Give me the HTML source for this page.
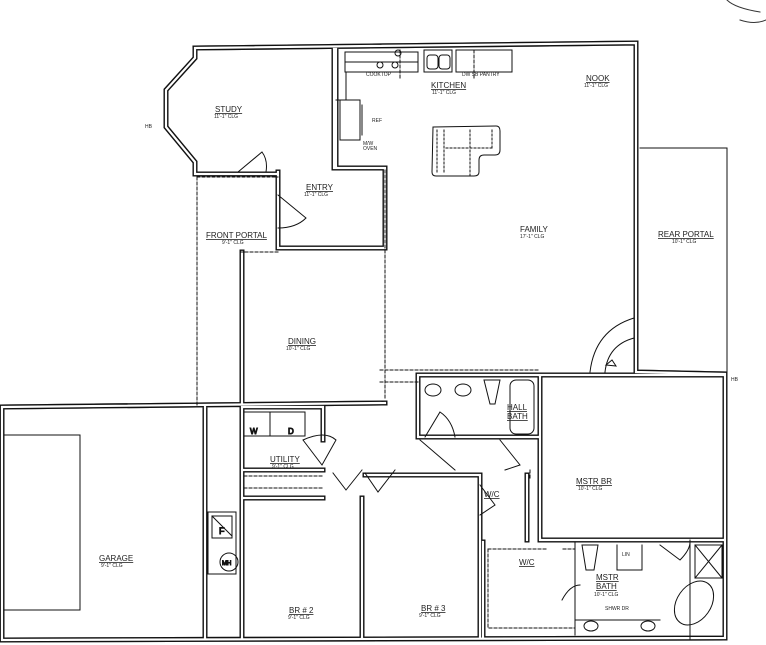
<!DOCTYPE html>
<html><head><meta charset="utf-8"><style>
html,body{margin:0;padding:0;background:#fff;width:766px;height:645px;overflow:hidden}
svg{display:block}
text{font-family:"Liberation Sans",sans-serif;fill:#222}
.l{font-size:8px;text-decoration:underline}
.s{font-size:5px}
</style></head><body>
<svg width="766" height="645" viewBox="0 0 766 645" xmlns="http://www.w3.org/2000/svg">
<g fill="none" stroke="#111" stroke-linecap="square">
<!-- double walls: thick black then white core -->
<g id="walls" stroke-width="5">
<path d="M195,48 L636,43 L636,372 M636,372 L725,374 L725,638 L2,640 L2,407 L385,403 M195,48 L195,58 L166,90 L166,127 L195,162 L195,174 L278,174 M334,49 L334,168 M336,49 L336,168 L385,168 L385,248 M278,172 L278,248 L385,248 M242,252 L242,403 M242,407 L242,638 M205,407 L205,638 M242,470 L323,470 M242,498 L323,498 M242,407 L323,407 L323,440 M362,498 L362,638 M365,475 L480,475 L480,638 M418,375 L418,437 L540,437 M418,375 L725,375 M540,375 L540,540 L725,540 M480,540 L725,540 M527,475 L527,540 M483,542 L483,638"/>
</g>
<g stroke="#fff" stroke-width="2">
<use href="#walls"/>
</g>
<path stroke-width="5" d="M195,48 L636,43 L636,372 L725,374 L725,638 L2,640 L2,407 L385,403 M195,48 L195,58 L166,90 L166,127 L195,162 L195,174 L278,174 M334,49 L334,168 M336,49 L336,168 L385,168 L385,248 M278,172 L278,248 L385,248 M242,252 L242,403 M242,407 L242,638 M205,407 L205,638 M242,470 L323,470 M242,498 L323,498 M242,407 L323,407 L323,440 M362,498 L362,638 M365,475 L480,475 L480,638 M418,375 L418,437 L540,437 M418,375 L725,375 M540,375 L540,540 L725,540 M527,475 L527,540 M483,542 L483,638" stroke="#111"/>
<path stroke-width="2.2" stroke="#fff" d="M195,48 L636,43 L636,372 L725,374 L725,638 L2,640 L2,407 L385,403 M195,48 L195,58 L166,90 L166,127 L195,162 L195,174 L278,174 M334,49 L334,168 M336,49 L336,168 L385,168 L385,248 M278,172 L278,248 L385,248 M242,252 L242,403 M242,407 L242,638 M205,407 L205,638 M242,470 L323,470 M242,498 L323,498 M242,407 L323,407 L323,440 M362,498 L362,638 M365,475 L480,475 L480,638 M418,375 L418,437 L540,437 M418,375 L725,375 M540,375 L540,540 L725,540 M527,475 L527,540 M483,542 L483,638"/>
<!-- thin lines -->
<g stroke-width="1">
<path d="M640,148 L727,148 L727,372 M5,435 L80,435 L80,610 L5,610"/>
<path stroke-dasharray="3,2" d="M197,177 L197,405 M197,177 L278,177 M240,252 L278,252 M385,170 L385,400 M380,370 L540,370 M380,382 L418,382 M336,100 L345,100 M400,50 L400,78 M474,50 L474,78 M530,470 L530,478"/>
<!-- kitchen counters -->
<path d="M345,52 L418,52 L418,72 L345,72 Z M345,62 L418,62 M424,50 L452,50 L452,72 L424,72 Z M456,50 L512,50 L512,72 L456,72 Z M346,72 L346,100 M340,100 L360,100 L360,140 L340,140 Z M362,105 L362,135"/>
<circle cx="380" cy="65" r="3"/><circle cx="395" cy="65" r="3"/><circle cx="398" cy="53" r="3"/>
<rect x="427" y="55" width="11" height="14" rx="3"/><rect x="439" y="55" width="11" height="14" rx="3"/>
<!-- island -->
<path d="M433,127 L496,126 Q500,126 500,131 L500,150 Q500,155 495,155 L484,155 Q479,155 479,160 L479,172 Q479,176 474,176 L436,176 Q432,176 432,172 Z"/>
<path stroke-dasharray="2,2" d="M437,130 L437,174 M444,130 L444,174 M446,148 L492,148 M470,130 L470,176 M492,130 L492,148"/>
<!-- family door arc -->
<path d="M634,318 Q595,330 590,372 M634,338 Q608,345 605,372"/>
<path d="M606,365 l6,-5 l4,6 z"/>
<!-- study door -->
<path d="M238,172 L262,152 Q268,160 266,172"/>
<path d="M278,195 L306,218 Q296,228 278,228"/>
<!-- hall bath fixtures -->
<ellipse cx="433" cy="390" rx="8" ry="6"/><ellipse cx="463" cy="390" rx="8" ry="6"/>
<path d="M484,380 L500,380 L495,404 L490,404 Z"/>
<rect x="510" y="380" width="24" height="54" rx="6"/>
<path d="M425,437 L440,412 Q452,420 455,437"/>
<!-- utility -->
<path d="M244,412 L305,412 L305,436 L244,436 M270,412 L270,436"/>
<text x="250" y="434" font-size="8">W</text><text x="288" y="434" font-size="8">D</text>
<!-- doors hall -->
<path d="M303,440 L322,465 L336,440 Q325,430 303,440 M333,473 L346,490 L362,470 M365,473 L378,492 L395,470 M420,440 L455,470 M500,440 L520,465 L505,470 M480,485 L495,505 L480,515"/>
<path d="M244,476 L322,476 M244,488 L322,488" stroke-dasharray="3,2"/>
<!-- F / MH -->
<rect x="208" y="512" width="28" height="62"/><rect x="212" y="516" width="20" height="22"/>
<line x1="212" y1="516" x2="232" y2="536"/>
<circle cx="229" cy="562" r="9"/>
<text x="219" y="534" font-size="9">F</text><text x="222" y="565" font-size="6">MH</text>
<!-- master bath -->
<path d="M488,549 L548,549 M563,549 L575,549 M488,549 L488,628 L575,628" stroke-dasharray="3,2"/>
<path d="M575,542 L575,635 M575,620 L660,620 M617,545 L617,570 L642,570 L642,545 M690,540 L690,640 M695,545 L722,545 L722,578 L695,578 Z M695,545 L722,578 M722,545 L695,578"/>
<path d="M582,545 L598,545 L594,570 L586,570 Z"/>
<ellipse cx="694" cy="603" rx="17" ry="24" transform="rotate(35 694 603)"/>
<ellipse cx="591" cy="626" rx="7" ry="5"/><ellipse cx="648" cy="626" rx="7" ry="5"/>
<path d="M562,600 Q570,585 580,585 M660,545 L680,560 Q690,550 690,542"/>
</g>
<path d="M727,0 Q735,8 760,12 M740,20 Q755,25 766,20" stroke="#333" fill="none"/>
</g>
<text class="l" x="215" y="112">STUDY</text><text class="s" x="214" y="118">11'-1" CLG</text>
<text class="l" x="431" y="88">KITCHEN</text><text class="s" x="432" y="94">11'-1" CLG</text>
<text class="s" x="366" y="76">COOKTOP</text><text class="s" x="462" y="76">DW  SB  PANTRY</text>
<text class="s" x="372" y="122">REF</text><text class="s" x="363" y="145">M/W</text><text class="s" x="363" y="150">OVEN</text>
<text class="l" x="586" y="81">NOOK</text><text class="s" x="584" y="87">11'-1" CLG</text>
<text x="520" y="232" font-size="8">FAMILY</text><text class="s" x="520" y="238">17'-1" CLG</text>
<text class="l" x="658" y="237">REAR PORTAL</text><text class="s" x="672" y="243">10'-1" CLG</text>
<text class="l" x="306" y="190">ENTRY</text><text class="s" x="304" y="196">11'-1" CLG</text>
<text class="l" x="206" y="238">FRONT PORTAL</text><text class="s" x="222" y="244">9'-1" CLG</text>
<text class="l" x="288" y="344">DINING</text><text class="s" x="286" y="350">10'-1" CLG</text>
<text class="l" x="507" y="410">HALL</text><text class="l" x="507" y="419">BATH</text>
<text class="l" x="270" y="462">UTILITY</text><text class="s" x="272" y="468">9'-1" CLG</text>
<text class="l" x="99" y="561">GARAGE</text><text class="s" x="101" y="567">9'-1" CLG</text>
<text class="l" x="289" y="613">BR # 2</text><text class="s" x="288" y="619">9'-1" CLG</text>
<text class="l" x="421" y="611">BR # 3</text><text class="s" x="419" y="617">9'-1" CLG</text>
<text class="l" x="576" y="484">MSTR BR</text><text class="s" x="578" y="490">10'-1" CLG</text>
<text class="l" x="484" y="497" font-size="6">W/C</text><text class="l" x="519" y="565">W/C</text>
<text class="l" x="596" y="580">MSTR</text><text class="l" x="596" y="589">BATH</text><text class="s" x="594" y="596">10'-1" CLG</text>
<text class="s" x="622" y="556">LIN</text><text class="s" x="605" y="610">SHWR  DR</text>
<text class="s" x="145" y="128">HB</text><text class="s" x="731" y="381">HB</text>
</svg>
</body></html>
